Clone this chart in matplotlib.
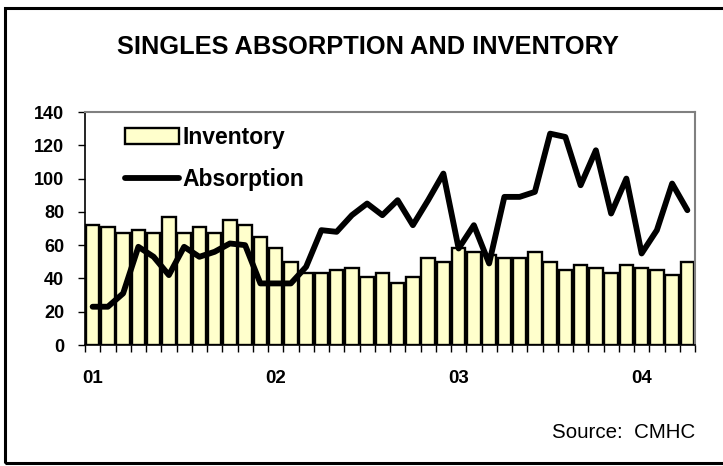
import matplotlib
matplotlib.use('Agg')
import matplotlib.pyplot as plt
import numpy as np
from matplotlib.patches import Rectangle

plt.rcParams['font.family'] = ['Liberation Sans', 'DejaVu Sans']

# Monthly data, Jan 2001 - Apr 2004
inventory = [72, 71, 67, 69, 67, 77, 67, 71, 67, 75, 72, 65,
             58, 50, 43, 43, 45, 46, 41, 43, 37, 41, 52, 50,
             58, 56, 54, 52, 52, 56, 50, 45, 48, 46, 43, 48,
             46, 45, 42, 50]
absorption = [23, 23, 31, 59, 53, 42, 59, 53, 56, 61, 60, 37,
              37, 37, 47, 69, 68, 78, 85, 78, 87, 72, 87, 103,
              58, 72, 49, 89, 89, 92, 127, 125, 96, 117, 79, 100,
              55, 69, 97, 81]
year_labels = ['01', '02', '03', '04']
year_positions = [0, 12, 24, 36]
yticks = [0, 20, 40, 60, 80, 100, 120, 140]

W, H = 723, 466
fig = plt.figure(figsize=(W / 100, H / 100), dpi=100)
ax = fig.add_axes([85 / W, 121 / H, 610 / W, 233 / H])

x = np.arange(len(inventory))
bars = ax.bar(x, inventory, width=0.88, color='#FFFFCC', edgecolor='black',
              linewidth=1.7, label='Inventory', zorder=2)
line, = ax.plot(x, absorption, color='black', lw=4.2, solid_joinstyle='round',
                solid_capstyle='round', label='Absorption', zorder=3)

ax.set_xlim(-0.5, len(inventory) - 0.5)
ax.set_ylim(0, 140)
ax.set_yticks(yticks)
ax.set_yticklabels([str(v) for v in yticks], fontsize=13, fontweight='bold')
ax.set_xticks(year_positions)
ax.set_xticklabels(year_labels, fontsize=13.5, fontweight='bold')
ax.set_xticks(np.arange(-0.5, len(inventory), 1), minor=True)
ax.tick_params(axis='x', which='major', length=0, pad=18)
ax.tick_params(axis='x', which='minor', length=5, width=1, direction='out')
ax.tick_params(axis='y', which='major', length=5, width=1, pad=10, direction='out')

for s in ['top', 'right']:
    ax.spines[s].set_color('#808080')
    ax.spines[s].set_linewidth(1.5)
for s in ['left', 'bottom']:
    ax.spines[s].set_color('black')
    ax.spines[s].set_linewidth(1.2)

ax.legend(handles=[bars, line], loc='upper left', bbox_to_anchor=(0.066, 0.94),
          frameon=False, prop=dict(weight='bold', size=16.5), handlelength=2.35,
          handleheight=0.75, handletextpad=0.15, labelspacing=0.85, borderpad=0,
          borderaxespad=0)

fig.text(368 / W, 1 - 47 / H, 'SINGLES ABSORPTION AND INVENTORY', ha='center',
         va='center', fontsize=18.3, fontweight='bold')
fig.text(695 / W, 1 - 432 / H, 'Source:  CMHC', ha='right', va='center', fontsize=14.8)

fig.add_artist(Rectangle((5 / W, 3 / H), 1.0, 455 / H, fill=False, lw=2.2,
                         edgecolor='black', transform=fig.transFigure))

fig.savefig('out.png', dpi=100)
